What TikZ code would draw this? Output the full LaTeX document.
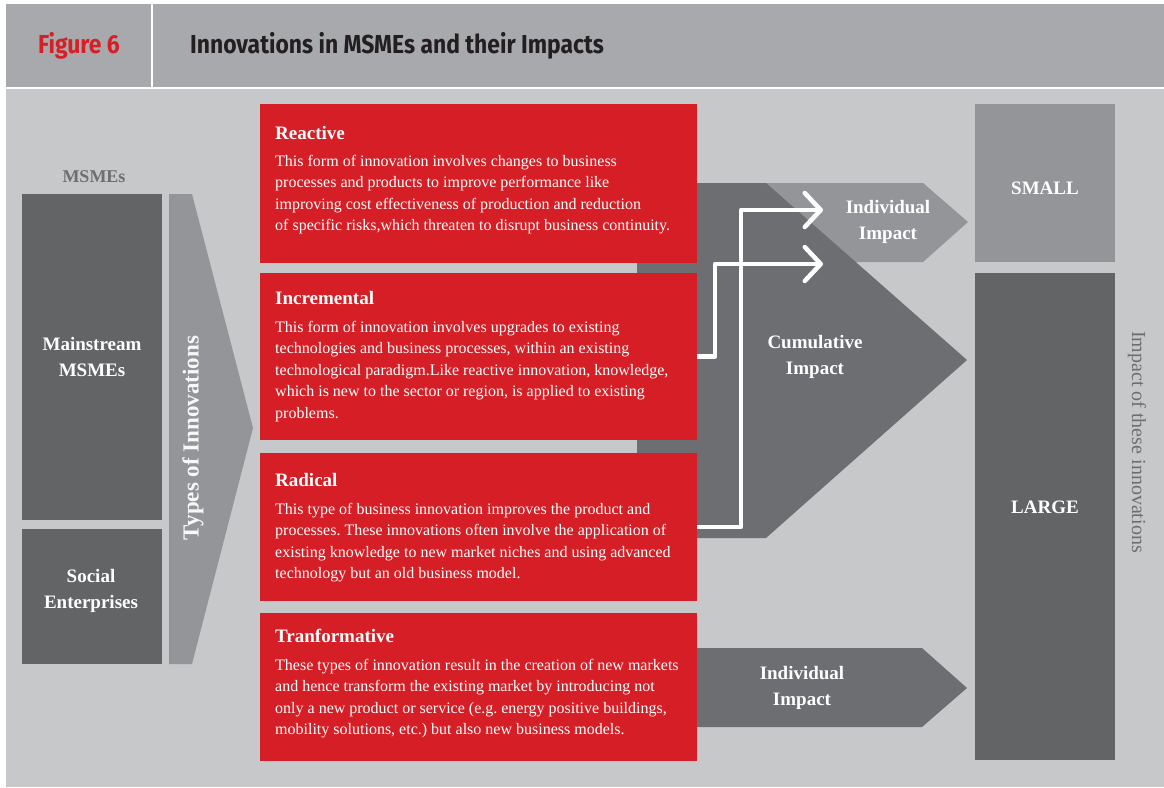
\documentclass[tikz,border=0pt]{standalone}
\usepackage{fontspec}
\setmainfont{Liberation Serif}
\newfontfamily\headfont[FakeStretch=0.88]{Fira Sans}
\usetikzlibrary{arrows.meta}
\definecolor{headgray}{HTML}{A7A9AC}
\definecolor{bodygray}{HTML}{C7C8CA}
\definecolor{darkbox}{HTML}{636466}
\definecolor{midgray}{HTML}{939598}
\definecolor{arrowgray}{HTML}{6D6E71}
\definecolor{figred}{HTML}{D71F26}
\definecolor{boxred}{HTML}{D51E25}
\definecolor{titleink}{HTML}{231F20}
\newcommand{\txtlines}[1]{\begin{tabular}[t]{@{}l@{}}#1\end{tabular}}
\frenchspacing
\begin{document}
\begin{tikzpicture}[x=1pt,y=-1pt,
  block/.style={anchor=north west, inner sep=0pt, outer sep=0pt, draw=none},
  redbox/.style={block, fill=boxred, minimum width=437pt},
  boxtitle/.style={anchor=base west, inner sep=0pt, text=white, font=\fontsize{19}{22}\selectfont\bfseries},
  boxbody/.style={anchor=base west, inner sep=0pt, text=white, font=\fontsize{16}{21.5}\selectfont},
  whitelabel/.style={align=center, inner sep=0pt, text=white, font=\fontsize{19}{26.5}\selectfont\bfseries},
  connector/.style={draw=white, line width=4.5pt, line join=round, -{Straight Barb[length=16pt,width=34pt,round]}}
]
\useasboundingbox (0,0) rectangle (1164,787);
\fill[white] (0,0) rectangle (1164,787);
% header
\fill[headgray] (6,4) rectangle (1164,87);
\fill[white] (151,4) rectangle (153,87);
\node[inner sep=0pt, text=figred, font=\headfont\fontsize{26}{28}\selectfont\bfseries] (fig) at (79,46) {Figure 6};
\node[anchor=west, inner sep=0pt, text=titleink, font=\headfont\fontsize{26}{28}\selectfont\bfseries] (title) at (190,46) {Innovations in MSMEs and their Impacts};
% body background
\fill[bodygray] (6,89) rectangle (1164,787);

% left column
\node[inner sep=0pt, text=arrowgray, font=\fontsize{18}{22}\selectfont\bfseries] (msmes) at (94,177) {MSMEs};
\node[block, fill=darkbox, minimum width=140pt, minimum height=326pt] (main) at (22,194) {};
\node[block, fill=darkbox, minimum width=140pt, minimum height=135pt] (social) at (22,529) {};
\node[whitelabel] (mainlbl) at (92,357) {Mainstream\\MSMEs};
\node[whitelabel] (sociallbl) at (91,591) {Social\\Enterprises};

% types arrow
\fill[midgray] (169,194) -- (192,194) -- (253,428) -- (192,664) -- (169,664) -- cycle;
\node[rotate=90, inner sep=0pt, text=white!92!midgray, font=\fontsize{23}{26}\selectfont\bfseries] (types) at (193,438) {Types of Innovations};

% impact arrows (behind)
\fill[midgray] (700,183) -- (923,183) -- (968,222) -- (923,262) -- (700,262) -- cycle;
\fill[arrowgray] (637,183) -- (766,183) -- (967,360) -- (766,538) -- (637,538) -- cycle;
\fill[arrowgray] (697,648) -- (922,648) -- (967,688) -- (922,727) -- (697,727) -- cycle;
\node[whitelabel] (indiv1) at (888,222) {Individual\\Impact};
\node[whitelabel] (cumul) at (815,357) {Cumulative\\Impact};
\node[whitelabel] (indiv2) at (802,688) {Individual\\Impact};

% red boxes
\node[redbox, minimum height=159pt] (reactive) at (260,104) {};
\node[redbox, minimum height=167pt] (incremental) at (260,273) {};
\node[redbox, minimum height=148pt] (radical) at (260,453) {};
\node[redbox, minimum height=148pt] (transform) at (260,613) {};

\node[boxtitle] (t1) at (275,139) {Reactive};
\node[boxbody] (b1) at (275,166) {\txtlines{This form of innovation involves changes to business\\
processes and products to improve performance like\\
improving cost effectiveness of production and reduction\\
of specific risks,which threaten to disrupt business continuity.}};

\node[boxtitle] (t2) at (275,304) {Incremental};
\node[boxbody] (b2) at (275,332) {\txtlines{This form of innovation involves upgrades to existing\\
technologies and business processes, within an existing\\
technological paradigm.Like reactive innovation, knowledge,\\
which is new to the sector or region, is applied to existing\\
problems.}};

\node[boxtitle] (t3) at (275,486) {Radical};
\node[boxbody] (b3) at (275,514) {\txtlines{This type of business innovation improves the product and\\
processes. These innovations often involve the application of\\
existing knowledge to new market niches and using advanced\\
technology but an old business model.}};

\node[boxtitle] (t4) at (275,642) {Tranformative};
\node[boxbody] (b4) at (275,670) {\txtlines{These types of innovation result in the creation of new markets\\
and hence transform the existing market by introducing not\\
only a new product or service (e.g. energy positive buildings,\\
mobility solutions, etc.) but also new business models.}};

% connectors
\coordinate (radtip) at (823,210);
\coordinate (inctip) at (823,264);
\draw[connector] (radical.east) -- (741,527) |- (radtip);
\draw[connector] (incremental.east) -- (715,356.5) |- (inctip);

% right column
\node[block, fill=midgray, minimum width=140pt, minimum height=158pt] (small) at (975,104) {};
\node[block, fill=darkbox, minimum width=140pt, minimum height=487pt] (large) at (975,273) {};
\node[whitelabel] (smalllbl) at (1045,188) {SMALL};
\node[whitelabel] (largelbl) at (1045,507) {LARGE};
\node[rotate=-90, inner sep=0pt, text=arrowgray, font=\fontsize{20}{24}\selectfont] (impactlbl) at (1137,442) {Impact of these innovations};
\end{tikzpicture}
\end{document}
